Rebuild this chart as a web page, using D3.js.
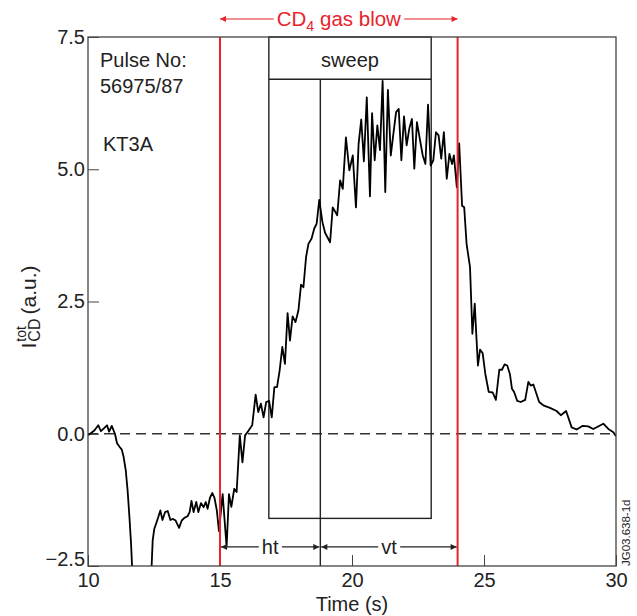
<!DOCTYPE html>
<html>
<head>
<meta charset="utf-8">
<script src="https://cdn.jsdelivr.net/npm/d3@7"></script>
<style>
body { margin: 0; background: #fff; }
svg { font-family: "Liberation Sans", Arial, Helvetica, sans-serif; }
</style>
</head>
<body>
<svg id="chart"></svg>
<script>
// trace (time in s, signal in a.u.)
const times = [10.0,10.24,10.39,10.49,10.62,10.72,10.80,10.90,11.02,11.10,11.20,11.28,11.35,11.43,11.50,11.57,11.63,11.67,
    11.80,12.10,12.35,
    12.41,12.45,12.51,12.60,12.66,12.74,12.82,12.92,13.02,13.12,13.22,13.32,13.45,13.55,13.65,13.77,13.85,13.92,14.00,14.10,14.18,14.28,14.38,14.46,14.53,14.62,14.71,14.79,14.88,14.96,
    15.10,15.25,15.34,15.43,15.54,15.63,15.75,15.85,15.95,16.07,16.22,16.35,16.45,16.55,16.65,16.75,16.86,16.96,17.06,17.16,17.26,17.36,17.46,17.56,17.65,17.75,17.86,17.97,18.07,18.16,18.26,18.35,18.47,18.57,18.66,18.76,18.88,18.98,
    19.17,19.27,19.44,19.55,19.65,19.77,19.90,20.03,20.15,20.25,20.35,20.45,20.56,20.68,20.76,20.86,20.96,21.06,21.16,21.26,21.36,21.47,21.56,21.67,21.77,21.87,21.97,22.07,22.17,22.27,22.36,22.46,22.58,22.68,22.78,22.88,22.98,23.08,23.18,23.28,23.38,23.48,23.59,23.69,23.79,23.86,23.97,24.06,
    24.17,24.25,24.34,24.47,24.56,24.65,24.70,24.77,24.85,24.95,25.05,25.18,25.33,25.45,25.58,25.68,25.78,25.88,25.98,26.06,26.14,26.26,26.39,26.56,26.68,26.77,26.87,27.09,27.27,27.50,27.75,27.91,28.11,28.32,28.51,28.74,28.95,29.14,29.52,29.71,29.90,30.0];
const values = [-0.03,0.06,0.16,0.05,0.11,0.16,0.04,0.15,0.0,-0.18,-0.25,-0.30,-0.44,-0.69,-1.07,-1.58,-2.07,-2.51,
    -3.4,-3.7,-3.2,
    -2.5,-2.02,-1.80,-1.67,-1.58,-1.45,-1.63,-1.48,-1.46,-1.63,-1.61,-1.64,-1.78,-1.64,-1.59,-1.56,-1.48,-1.27,-1.48,-1.29,-1.48,-1.31,-1.39,-1.29,-1.42,-1.21,-1.12,-1.21,-1.45,-1.84,
    -1.14,-2.14,-1.14,-1.38,-1.04,-1.10,-0.03,-0.54,-0.03,0.05,0.16,0.74,0.41,0.57,0.31,0.60,0.62,0.31,0.88,0.88,1.20,1.64,1.32,2.28,1.76,2.22,2.11,2.33,2.82,2.77,3.34,3.59,3.69,3.88,3.97,4.42,4.00,3.80,
    3.62,4.28,4.13,4.79,4.63,5.60,4.98,5.26,4.28,5.48,5.94,5.15,6.36,4.49,6.06,5.17,5.83,5.36,6.67,4.57,6.50,5.26,5.64,6.08,6.14,5.17,6.00,5.45,5.77,5.95,5.01,5.89,5.54,5.26,5.10,6.22,5.07,5.17,5.70,5.64,5.20,5.70,4.82,5.29,5.10,5.26,4.66,5.49,
    4.31,4.28,3.59,3.15,1.89,2.46,1.95,1.29,1.59,1.52,1.13,0.79,0.78,0.64,1.21,1.21,1.31,1.29,1.13,0.85,0.79,0.62,0.60,0.64,0.98,0.91,0.93,0.60,0.53,0.49,0.43,0.35,0.43,0.12,0.08,0.15,0.14,0.09,0.19,0.09,0.03,-0.05];

const xTicks = [10, 15, 20, 25, 30];
const yTicks = [-2.5, 0, 2.5, 5, 7.5];

// annotation times / levels
const gasBlow = [15, 24];               // CD4 gas blow start / end
const sweepTimes = [16.85, 18.8, 23];   // sweep box left, split, right
const sweepLevels = [6.7, -1.6];        // sweep header line, box bottom
const arrowLevel = -2.14;               // ht / vt arrows

const width = 637;
const height = 616;
const margin = {top: 37, right: 21, bottom: 50, left: 88};
const innerW = width - margin.left - margin.right;
const innerH = height - margin.top - margin.bottom;
const red = "#e8232b";

const svg = d3.select("#chart")
    .attr("width", width)
    .attr("height", height);

const defs = svg.append("defs");
defs.append("clipPath").attr("id", "plotClip")
    .append("rect").attr("width", innerW).attr("height", innerH);

function addArrow(id, color) {
    defs.append("marker")
        .attr("id", id)
        .attr("viewBox", "0 0 10 10")
        .attr("refX", 10).attr("refY", 5)
        .attr("markerWidth", 7).attr("markerHeight", 6)
        .attr("markerUnits", "userSpaceOnUse")
        .attr("orient", "auto-start-reverse")
        .append("path")
        .attr("d", "M0,0 L10,5 L0,10 z")
        .attr("fill", color);
}
addArrow("arrowBlack", "#222");
addArrow("arrowRed", red);

const g = svg.append("g")
    .attr("transform", `translate(${margin.left},${margin.top})`);

const x = d3.scaleLinear().domain([10, 30]).range([0, innerW]);
const y = d3.scaleLinear().domain([-2.5, 7.5]).range([innerH, 0]);

// axes, ticks pointing inward
const xAxis = g.append("g")
    .attr("transform", `translate(0,${innerH})`)
    .call(d3.axisBottom(x).tickValues(xTicks).tickSize(-11).tickPadding(7).tickFormat(d3.format("d")));
const yAxis = g.append("g")
    .call(d3.axisLeft(y).tickValues(yTicks).tickSize(-11).tickPadding(3).tickFormat(d3.format(".1f")));
[xAxis, yAxis].forEach(a => {
    a.select(".domain").remove();
    a.selectAll(".tick line").attr("stroke", "#444").attr("stroke-width", 1);
    a.selectAll(".tick text")
        .attr("font-size", 20)
        .attr("font-family", "\"Liberation Sans\", Arial, sans-serif")
        .attr("fill", "#222");
});
// lowest label sits on the axis line
yAxis.selectAll(".tick text").filter(d => d === -2.5).attr("dy", "-0.02em");

// zero line
g.append("line")
    .attr("x1", 0).attr("x2", innerW)
    .attr("y1", y(0)).attr("y2", y(0))
    .attr("stroke", "#333")
    .attr("stroke-width", 1.5)
    .attr("stroke-dasharray", "10,6");

// sweep box
g.append("rect")
    .attr("x", x(sweepTimes[0]))
    .attr("y", 0)
    .attr("width", x(sweepTimes[2]) - x(sweepTimes[0]))
    .attr("height", y(sweepLevels[1]))
    .attr("fill", "none")
    .attr("stroke", "#222")
    .attr("stroke-width", 1.4);
g.append("line")
    .attr("x1", x(sweepTimes[0])).attr("x2", x(sweepTimes[2]))
    .attr("y1", y(sweepLevels[0])).attr("y2", y(sweepLevels[0]))
    .attr("stroke", "#222").attr("stroke-width", 1.4);
g.append("line")
    .attr("x1", x(sweepTimes[1])).attr("x2", x(sweepTimes[1]))
    .attr("y1", y(sweepLevels[0])).attr("y2", innerH)
    .attr("stroke", "#222").attr("stroke-width", 1.4);
g.append("text")
    .attr("x", (x(sweepTimes[0]) + x(sweepTimes[2])) / 2)
    .attr("y", 30)
    .attr("text-anchor", "middle")
    .attr("font-size", 20)
    .attr("fill", "#222")
    .text("sweep");

// data trace
const line = d3.line()
    .x(d => x(d[0]))
    .y(d => y(d[1]));
g.append("path")
    .datum(d3.zip(times, values))
    .attr("clip-path", "url(#plotClip)")
    .attr("d", line)
    .attr("fill", "none")
    .attr("stroke", "#000")
    .attr("stroke-width", 1.8)
    .attr("stroke-linejoin", "round");

// gas blow lines
g.selectAll(".gas")
    .data(gasBlow)
    .join("line")
    .attr("class", "gas")
    .attr("x1", d => x(d)).attr("x2", d => x(d))
    .attr("y1", 0).attr("y2", innerH)
    .attr("stroke", red)
    .attr("stroke-width", 2);

// frame
g.append("rect")
    .attr("width", innerW)
    .attr("height", innerH)
    .attr("fill", "none")
    .attr("stroke", "#444")
    .attr("stroke-width", 1.3);

// labelled double arrow with a gap for the text
function gapArrow(parent, x0, x1, yPos, label, color, marker, size, sub) {
    const t = parent.append("text")
        .attr("x", (x0 + x1) / 2)
        .attr("y", yPos + size * 0.36)
        .attr("text-anchor", "middle")
        .attr("font-size", size)
        .attr("fill", color);
    if (sub) {
        t.append("tspan").text(label[0]);
        t.append("tspan").attr("font-size", size * 0.7).attr("dy", 5).text(sub);
        t.append("tspan").attr("dy", -5).text(label[1]);
    } else {
        t.text(label);
    }
    const bb = t.node().getBBox();
    parent.append("line")
        .attr("x1", bb.x - 3).attr("x2", x0)
        .attr("y1", yPos).attr("y2", yPos)
        .attr("stroke", color).attr("stroke-width", 1.2)
        .attr("marker-end", `url(#${marker})`);
    parent.append("line")
        .attr("x1", bb.x + bb.width + 3).attr("x2", x1)
        .attr("y1", yPos).attr("y2", yPos)
        .attr("stroke", color).attr("stroke-width", 1.2)
        .attr("marker-end", `url(#${marker})`);
}
gapArrow(g, x(gasBlow[0]) + 1, x(sweepTimes[1]) - 1, y(arrowLevel), "ht", "#222", "arrowBlack", 20);
gapArrow(g, x(sweepTimes[1]) + 1, x(gasBlow[1]) - 1, y(arrowLevel), "vt", "#222", "arrowBlack", 20);
gapArrow(g, x(gasBlow[0]), x(gasBlow[1]), -18, ["CD", " gas blow"], red, "arrowRed", 20.5, "4");

// corner notes
const notes = g.append("g").attr("font-size", 20).attr("fill", "#222");
notes.append("text").attr("x", 12).attr("y", 30).text("Pulse No:");
notes.append("text").attr("x", 12).attr("y", 56).text("56975/87");
notes.append("text").attr("x", 15).attr("y", 114).text("KT3A");

// axis titles
svg.append("text")
    .attr("x", margin.left + innerW / 2)
    .attr("y", 611)
    .attr("text-anchor", "middle")
    .attr("font-size", 20)
    .attr("fill", "#222")
    .text("Time (s)");

const yTitle = svg.append("g");
const tI = yTitle.append("text").attr("font-size", 21).attr("fill", "#222").text("I");
const wI = tI.node().getComputedTextLength() + 1;
const tTot = yTitle.append("text").attr("x", wI).attr("y", -10).attr("font-size", 14).attr("fill", "#222").text("tot");
const tCD = yTitle.append("text").attr("x", wI).attr("y", 4).attr("font-size", 16).attr("fill", "#222").text("CD");
const wSub = Math.max(tTot.node().getComputedTextLength(), tCD.node().getComputedTextLength()) + 4;
const tAu = yTitle.append("text").attr("x", wI + wSub).attr("font-size", 21).attr("fill", "#222").text("(a.u.)");
const titleLen = wI + wSub + tAu.node().getComputedTextLength();
yTitle.attr("transform", `translate(36,${307 + titleLen / 2}) rotate(-90)`);

// figure code on the right edge
svg.append("text")
    .attr("transform", "translate(630,566) rotate(-90)")
    .attr("font-size", 11.5)
    .attr("fill", "#222")
    .text("JG03.638-1d");
</script>
</body>
</html>
